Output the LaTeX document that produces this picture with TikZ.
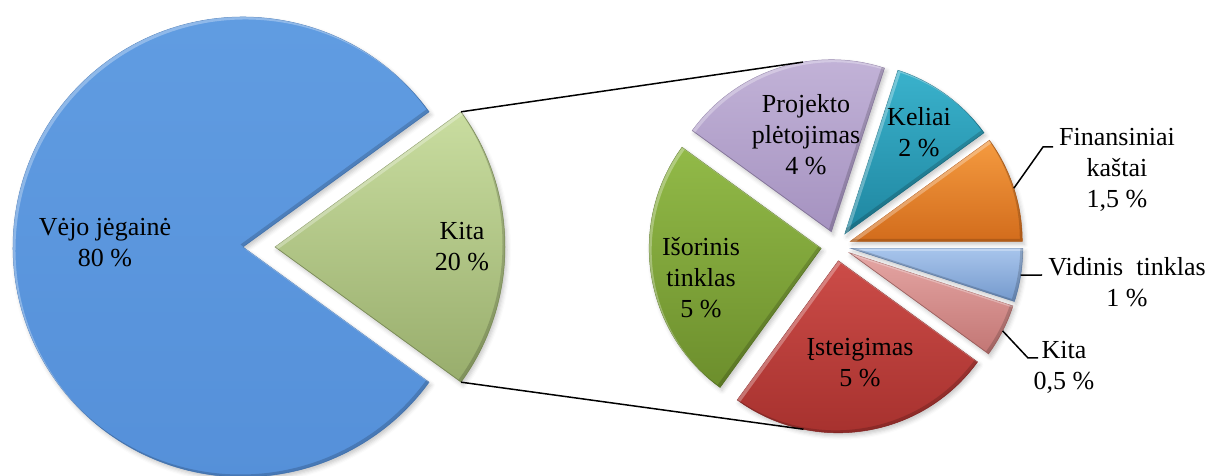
\documentclass[tikz,border=0pt]{standalone}
\usepackage{fontspec}
\setmainfont{Liberation Serif}
\usetikzlibrary{shadows.blur}

% slice colours (light top, dark bottom)
\definecolor{vejoT}{HTML}{619DE2}
\definecolor{vejoB}{HTML}{5590D9}
\definecolor{kitaT}{HTML}{C9DDA0}
\definecolor{kitaB}{HTML}{98AD6C}
\definecolor{finT}{HTML}{F59B40}
\definecolor{finB}{HTML}{D26C1C}
\definecolor{kelT}{HTML}{3AB2CC}
\definecolor{kelB}{HTML}{1F86A0}
\definecolor{proT}{HTML}{C4B5D9}
\definecolor{proB}{HTML}{A592C0}
\definecolor{isoT}{HTML}{92BA48}
\definecolor{isoB}{HTML}{6C8E2C}
\definecolor{istT}{HTML}{CC4C48}
\definecolor{istB}{HTML}{A22E2B}
\definecolor{kmT}{HTML}{E5A6A4}
\definecolor{kmB}{HTML}{C27674}
\definecolor{vidT}{HTML}{A8C5EC}
\definecolor{vidB}{HTML}{7499CC}

% wedge outline: {centre x,y}{explode angle}{explode dist}{start}{end}{radius}
\newcommand\wedgepath[6]{([shift={(#2:#3)}]#1) -- ++(#4:#6) arc[start angle=#4,end angle=#5,radius=#6] -- cycle}
% shaded wedge with a soft bevelled rim
\newcommand\bevelwedge[8]{%
  \path[slice={#7}{#8}] \wedgepath{#1}{#2}{#3}{#4}{#5}{#6};
  \begin{scope}
    \clip \wedgepath{#1}{#2}{#3}{#4}{#5}{#6};
    \fill[white,fill opacity=0.30,even odd rule,shift={(2.5,-2.5)}]
      (-3000,-3000) rectangle (4000,4000) \wedgepath{#1}{#2}{#3}{#4}{#5}{#6};
    \fill[black,fill opacity=0.16,even odd rule,shift={(-2.5,2.5)}]
      (-3000,-3000) rectangle (4000,4000) \wedgepath{#1}{#2}{#3}{#4}{#5}{#6};
  \end{scope}}

\begin{document}
\begin{tikzpicture}[x=1pt,y=1pt,
  slice/.style 2 args={top color=#1,bottom color=#2,draw=#2!88!black,line width=0.5pt,
    blur shadow={shadow xshift=2pt,shadow yshift=-3pt,shadow blur radius=4pt,shadow opacity=22}},
  lbl/.style={align=center,inner sep=0pt,anchor=base,font=\fontsize{26}{31}\selectfont},
  series/.style={draw=black,line width=1.5pt},
  leader/.style={draw=black,line width=1.5pt}]
\useasboundingbox (0,0) rectangle (1210,476);

% ---------- main pie ----------
\bevelwedge{243,229}{0}{0}{36}{324}{230}{vejoT}{vejoB}
\bevelwedge{243,229}{0}{32}{-36}{36}{230}{kitaT}{kitaB}
\coordinate (kitaO) at (275,229);
\coordinate (kitaTop) at ([shift={(36:230)}]kitaO);
\coordinate (kitaBot) at ([shift={(-36:230)}]kitaO);

% ---------- breakdown pie ----------
\bevelwedge{836,230}{108}{15}{72}{144}{172}{proT}{proB}
\bevelwedge{836,230}{54}{15}{36}{72}{172}{kelT}{kelB}
\bevelwedge{836,230}{18}{15}{0}{36}{172}{finT}{finB}
\bevelwedge{836,230}{189}{15}{144}{234}{172}{isoT}{isoB}
\bevelwedge{836,230}{351}{15}{342}{360}{172}{vidT}{vidB}
\bevelwedge{836,230}{333}{15}{324}{342}{172}{kmT}{kmB}
\bevelwedge{836,230}{279}{15}{234}{324}{172}{istT}{istB}

\coordinate (C) at (836,230);
\coordinate (aFin) at ([shift={(18:15)}]C);
\coordinate (aPro) at ([shift={(108:15)}]C);
\coordinate (aIst) at ([shift={(279:15)}]C);
\coordinate (aKm)  at ([shift={(333:15)}]C);
\coordinate (aVid) at ([shift={(351:15)}]C);

% series lines between the two pies
\coordinate (proTop) at ([shift={(99.5:172)}]aPro);
\coordinate (istBot) at ([shift={(258.3:172)}]aIst);
\draw[series] (kitaTop) -- (proTop);
\draw[series] (kitaBot) -- (istBot);

% ---------- labels (anchored at the baseline of the last line) ----------
\node[lbl] (lVejo) at (105,209) {Vėjo jėgainė\\80 \%};
\node[lbl] (lKita) at (462,205) {Kita\\20 \%};
\node[lbl] (lPro) at (806,301) {Projekto\\plėtojimas\\4 \%};
\node[lbl] (lKel) at (919,319) {Keliai\\2 \%};
\node[lbl] (lIso) at (701,158) {Išorinis\\tinklas\\5 \%};
\node[lbl] (lIst) at (860,89) {Įsteigimas\\5 \%};
\node[lbl] (lFin) at (1117,268) {Finansiniai\\kaštai\\1,5 \%};
\node[lbl] (lVid) at (1127,169) {Vidinis\ \ tinklas\\1 \%};
\node[lbl] (lKm) at (1064,86) {Kita\\0,5 \%};

% leader lines for the outside labels
\coordinate (finArc) at ([shift={(18:172)}]aFin);
\coordinate (finBend) at (1043,329);
\coordinate (finEnd) at (1053,329);
\draw[leader] (finArc) -- (finBend) -- (finEnd);
\coordinate (vidArc) at ([shift={(-9:172)}]aVid);
\coordinate (vidEnd) at (1042,201);
\draw[leader] (vidArc) -- (vidEnd);
\coordinate (kmArc) at ([shift={(-27:172)}]aKm);
\coordinate (kmBend) at (1028,118);
\coordinate (kmEnd) at (1038,118);
\draw[leader] (kmArc) -- (kmBend) -- (kmEnd);
\end{tikzpicture}
\end{document}
